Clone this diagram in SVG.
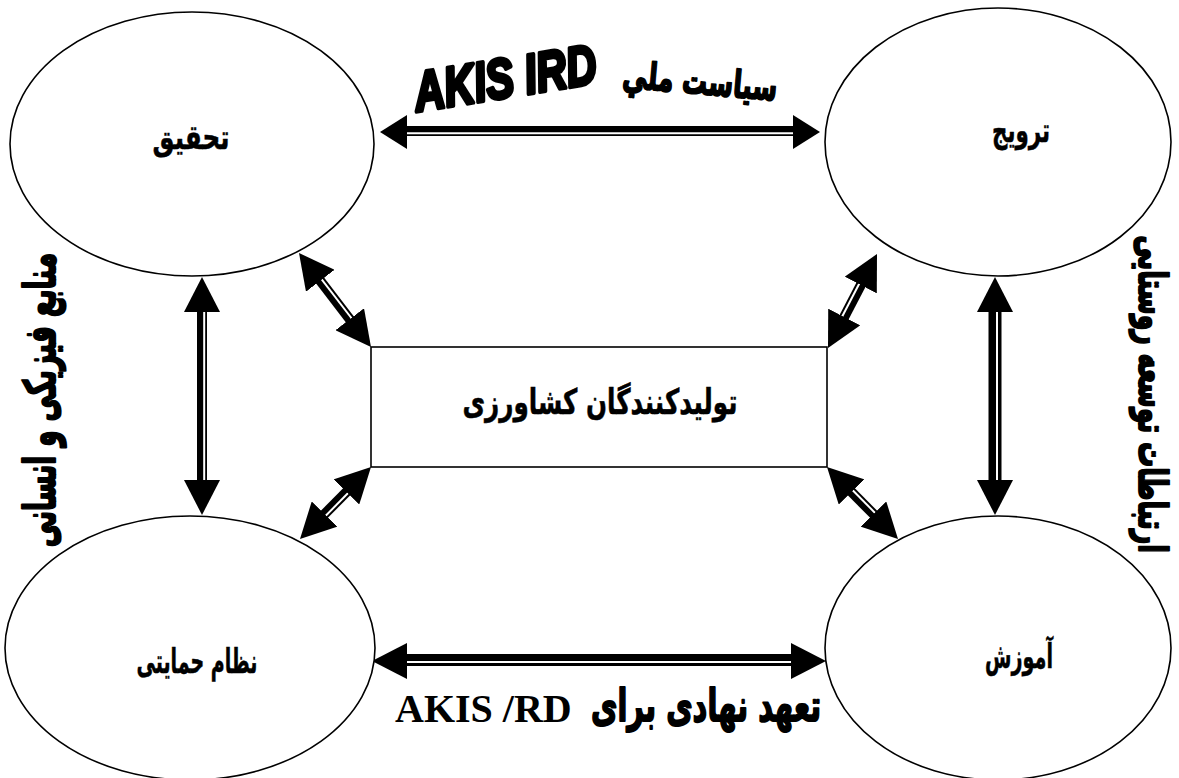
<svg xmlns="http://www.w3.org/2000/svg" width="1179" height="778" viewBox="0 0 1179 778">
  <style>
    .shape { fill: #fff; stroke: #000; stroke-width: 1.6; }
    .lbl { font-family: "DejaVu Sans", "Noto Sans", sans-serif; font-weight: bold; text-anchor: middle; fill: #000; stroke: #000; stroke-width: 0.4; }
    .heavy { font-family: "DejaVu Sans", "Noto Sans", sans-serif; font-weight: bold; text-anchor: middle; fill: #000; stroke: #000; stroke-width: 1.5; stroke-linejoin: round; }
    .band { stroke: #000; fill: none; }
    .gap { stroke: #fff; stroke-width: 2; fill: none; }
    .axis { fill: none; stroke: none; }
    .wordart { font-family: "Liberation Sans", Arial, sans-serif; font-weight: bold; font-style: italic; text-anchor: middle; fill: #000; stroke: #000; stroke-width: 3; stroke-linejoin: round; }
    .serif { font-family: "Liberation Serif", "Times New Roman", serif; font-weight: bold; fill: #000; }
  </style>
  <defs>
    <marker id="head" viewBox="0 0 35 36" refX="35" refY="18" markerWidth="35" markerHeight="36" markerUnits="userSpaceOnUse" orient="auto-start-reverse">
      <path d="M0,0 L35,18 L0,36 Z" fill="#000"/>
    </marker>
    <marker id="headShort" viewBox="0 0 27 34" refX="27" refY="17" markerWidth="27" markerHeight="34" markerUnits="userSpaceOnUse" orient="auto-start-reverse">
      <path d="M0,0 L27,17 L0,34 Z" fill="#000"/>
    </marker>
  </defs>

  <rect width="1179" height="778" fill="#fff"/>

  <!-- side captions (drawn under the ellipses) -->
  <g id="captions">
    <text class="wordart" font-size="40" transform="translate(508 97) rotate(-9) scale(1.05 1.4)">AKIS IRD</text>
    <text class="heavy" font-size="30" textLength="155" lengthAdjust="spacingAndGlyphs" transform="translate(699 94) rotate(5) scale(1 1.25)">سياست ملي</text>
    <text class="serif" font-size="40" x="395" y="722">AKIS /RD</text>
    <text class="heavy" font-size="34" textLength="230" lengthAdjust="spacingAndGlyphs" transform="translate(706 721) scale(1 1.3)">تعهد نهادی برای</text>
    <text class="heavy" font-size="30" transform="translate(40 400) rotate(-90) scale(0.87 1.45)" y="10">منابع فیزیکی و انسانی</text>
    <text class="heavy" font-size="30" transform="translate(1152 394) rotate(90) scale(0.84 1.3)" y="10">ارتباطات توسعه روستایی</text>
  </g>

  <!-- connectors: double shaft (thick + thin) with arrowheads at both ends -->
  <g id="connectors">
    <g id="c-top">
      <line class="band" x1="400" y1="131" x2="800" y2="131" stroke-width="10"/>
      <line class="gap" x1="400" y1="133.2" x2="800" y2="133.2"/>
      <path class="axis" d="M380,132 L820,132" marker-start="url(#headShort)" marker-end="url(#headShort)"/>
    </g>
    <g id="c-bottom">
      <line class="band" x1="400" y1="660" x2="800" y2="660" stroke-width="12"/>
      <line class="gap" x1="400" y1="662" x2="800" y2="662"/>
      <path class="axis" d="M372,661 L826,661" marker-start="url(#head)" marker-end="url(#head)"/>
    </g>
    <g id="c-left">
      <line class="band" x1="202" y1="305" x2="202" y2="487" stroke-width="10"/>
      <line class="gap" x1="204.2" y1="305" x2="204.2" y2="487"/>
      <path class="axis" d="M202,277 L202,515" marker-start="url(#head)" marker-end="url(#head)"/>
    </g>
    <g id="c-right">
      <line class="band" x1="995" y1="305" x2="995" y2="487" stroke-width="13"/>
      <line class="gap" x1="997" y1="305" x2="997" y2="487"/>
      <path class="axis" d="M995,277 L995,515" marker-start="url(#head)" marker-end="url(#head)"/>
    </g>
    <g id="c-tl">
      <line class="band" x1="317.2" y1="276.8" x2="352.8" y2="323.2" stroke-width="10"/>
      <line class="gap" x1="318.8" y1="275.6" x2="354.4" y2="322"/>
      <path class="axis" d="M299,253 L371,347" marker-start="url(#head)" marker-end="url(#head)"/>
    </g>
    <g id="c-tr">
      <line class="band" x1="863.1" y1="280.6" x2="841.9" y2="321.4" stroke-width="10"/>
      <line class="gap" x1="861.3" y1="279.7" x2="840.1" y2="320.5"/>
      <path class="axis" d="M877,254 L828,348" marker-start="url(#head)" marker-end="url(#head)"/>
    </g>
    <g id="c-bl">
      <line class="band" x1="321.1" y1="517.6" x2="349.9" y2="488.4" stroke-width="10"/>
      <line class="gap" x1="322.5" y1="519" x2="351.3" y2="489.8"/>
      <path class="axis" d="M300,539 L371,467" marker-start="url(#head)" marker-end="url(#head)"/>
    </g>
    <g id="c-br">
      <line class="band" x1="848.1" y1="488.4" x2="876.9" y2="517.6" stroke-width="10"/>
      <line class="gap" x1="849.5" y1="487" x2="878.3" y2="516.2"/>
      <path class="axis" d="M827,467 L898,539" marker-start="url(#head)" marker-end="url(#head)"/>
    </g>
  </g>

  <g id="research">
    <ellipse class="shape" cx="192" cy="144" rx="182" ry="132"/>
    <text class="lbl" font-size="25" textLength="77" lengthAdjust="spacingAndGlyphs" transform="translate(191 149) scale(1 1.35)">تحقيق</text>
  </g>
  <g id="extension">
    <ellipse class="shape" cx="998" cy="142" rx="173" ry="134"/>
    <text class="lbl" font-size="25" textLength="58" lengthAdjust="spacingAndGlyphs" transform="translate(1021 142) scale(1 1.35)">ترویج</text>
  </g>
  <g id="support">
    <ellipse class="shape" cx="190" cy="648" rx="185" ry="132"/>
    <text class="lbl" font-size="25" textLength="121" lengthAdjust="spacingAndGlyphs" transform="translate(197 673) scale(1 1.35)">نظام حمايتی</text>
  </g>
  <g id="education">
    <ellipse class="shape" cx="998" cy="648" rx="173" ry="132"/>
    <text class="lbl" font-size="25" textLength="68" lengthAdjust="spacingAndGlyphs" transform="translate(1019 668) scale(1 1.35)">آموزش</text>
  </g>
  <g id="farmers">
    <rect class="shape" x="371" y="347" width="456" height="120"/>
    <text class="lbl" font-size="26" textLength="275" lengthAdjust="spacingAndGlyphs" transform="translate(600 414) scale(1 1.35)">تولیدکنندگان کشاورزی</text>
  </g>
</svg>
